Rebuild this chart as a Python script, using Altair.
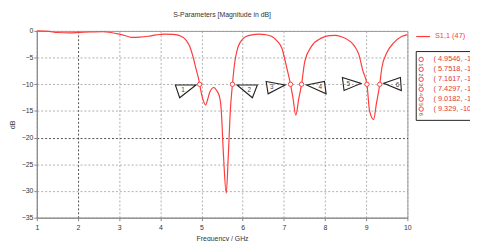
import altair as alt
import pandas as pd

# ---- data ----
freq = [1.0, 1.3, 1.5, 1.8, 2.0, 2.3, 2.6, 2.8, 3.0, 3.2, 3.3, 3.5, 3.7, 3.9, 4.1, 4.3,
        4.41, 4.5, 4.57, 4.65, 4.72, 4.80, 4.88, 4.93, 4.9546, 5.0, 5.05, 5.1, 5.15, 5.2,
        5.3, 5.37, 5.44, 5.48, 5.535, 5.6, 5.65, 5.70, 5.7518, 5.80, 5.88, 5.95, 6.08,
        6.25, 6.39, 6.55, 6.71, 6.85, 6.95, 7.07, 7.1617, 7.22, 7.29, 7.36, 7.4297, 7.51,
        7.67, 7.91, 8.1, 8.25, 8.38, 8.62, 8.72, 8.82, 8.92, 9.0182, 9.08, 9.18, 9.25,
        9.329, 9.38, 9.50, 9.66, 9.86, 10.0]
s11 = [0.0, -0.1, -0.3, -0.35, -0.3, -0.2, -0.15, -0.3, -0.6, -1.0, -1.2, -1.15, -1.0,
       -0.75, -0.6, -0.65, -0.75, -1.0, -1.3, -2.0, -3.0, -5.0, -7.5, -9.0, -10.0, -11.8,
       -13.2, -13.9, -12.8, -11.5, -10.6, -11.2, -12.4, -14.9, -23.5, -30.4, -23.5, -14.9,
       -10.0, -6.3, -3.2, -2.0, -1.05, -0.7, -0.6, -0.7, -1.05, -2.0, -3.2, -6.9, -10.0,
       -12.5, -15.8, -12.8, -10.0, -5.65, -2.9, -1.35, -0.87, -0.85, -1.05, -2.0, -2.9,
       -4.4, -7.5, -10.0, -14.9, -16.6, -13.5, -10.0, -6.9, -4.1, -2.3, -1.05, -0.7]

marker_freq = [4.9546, 5.7518, 7.1617, 7.4297, 9.0182, 9.329]
marker_db = [-10, -10, -10, -10, -10, -10]
marker_label = ["1", "2", "3", "4", "5", "6"]
marker_text = ["( 4.9546, -10 )", "( 5.7518, -10 )", "( 7.1617, -10 )",
               "( 7.4297, -10 )", "( 9.0182, -10 )", "( 9.329, -10 )"]

series_name = "S1,1 (47)"
chart_title = "S-Parameters [Magnitude in dB]"
x_title = "Frequency / GHz"
y_title = "dB"
x_ticks = [1, 2, 3, 4, 5, 6, 7, 8, 9, 10]
y_ticks = [0, -5, -10, -15, -20, -25, -30, -35]

# ---- styling ----
W, H = 377, 190
RED = "#ff3b3b"
FONT = "Liberation Sans"
GREY = "#333333"

# flag triangles (custom symbol paths, unit = 10 px) and label offsets
tri_paths = [
    "M-2.47,0.07L-0.37,0.07L-2.03,1.37Z",
    "M0.46,0.07L2.53,0.07L2.03,1.37Z",
    "M-2.48,-0.29L-0.55,0.07L-2.28,0.97Z",
    "M0.5,0.07L2.33,-0.29L2.5,0.97Z",
    "M-2.5,-0.69L-0.6,-0.09L-2.33,0.64Z",
    "M0.4,-0.1L2.1,-0.7L2.2,0.64Z",
]
lab_off = [(-17, 6), (17, 6), (-19, 2.5), (19, 2.5), (-19, 0), (18, 1)]

curve_df = pd.DataFrame({"f": freq, "db": s11})
mk_df = pd.DataFrame({"f": marker_freq, "db": marker_db, "n": marker_label,
                      "t": marker_text})
one = pd.DataFrame({"a": [0]})

grid_x_color = {"condition": {"test": "datum.value == 2", "value": "#222222"}, "value": "#9a9a9a"}
grid_y_color = {"condition": {"test": "datum.value == -20", "value": "#222222"}, "value": "#9a9a9a"}

x_enc = alt.X("f:Q", scale=alt.Scale(domain=[1, 10], nice=False, zero=False),
              axis=alt.Axis(values=x_ticks, format="d", title=x_title,
                            labelFont=FONT, labelFontSize=7, labelColor=GREY,
                            labelOverlap=False, labelFlush=False,
                            tickSize=3, tickColor="#888888", domainColor="#888888",
                            labelPadding=3, grid=True, gridDash=[2, 2],
                            gridColor=grid_x_color, gridWidth=0.8,
                            titleFont=FONT, titleFontSize=7, titleFontWeight="normal",
                            titleColor=GREY, titleY=17, titleBaseline="top"))
y_enc = alt.Y("db:Q", scale=alt.Scale(domain=[-35, 0], nice=False, zero=False),
              axis=alt.Axis(values=y_ticks, format="d", title=y_title,
                            labelFont=FONT, labelFontSize=7, labelColor=GREY,
                            labelOverlap=False, labelFlush=False, labelBound=False,
                            tickSize=3, tickColor="#888888", domainColor="#888888",
                            labelPadding=1, grid=True, gridDash=[2, 2],
                            gridColor=grid_y_color, gridWidth=0.8,
                            titleFont=FONT, titleFontSize=7, titleFontWeight="normal",
                            titleColor=GREY, titleX=-25, titleY=H / 2,
                            titleAngle=-90, titleAlign="center", titleBaseline="middle"))

line = alt.Chart(curve_df).mark_line(color=RED, strokeWidth=1.2,
                                     interpolate="monotone").encode(x=x_enc, y=y_enc)

layers = [line]

for i in range(len(marker_freq)):
    d = mk_df.iloc[[i]]
    layers.append(alt.Chart(d).mark_point(shape=tri_paths[i], size=400, filled=False,
                                          stroke="#222222", strokeWidth=1.1, opacity=1)
                  .encode(x=x_enc, y=y_enc))
    layers.append(alt.Chart(d).mark_text(dx=lab_off[i][0], dy=lab_off[i][1], fontSize=6.5,
                                         font=FONT, color="#444444")
                  .encode(x=x_enc, y=y_enc, text="n:N"))

layers.append(alt.Chart(mk_df).mark_point(shape="circle", size=20, filled=True,
                                          fill="white", stroke=RED, strokeWidth=1,
                                          opacity=1)
              .encode(x=x_enc, y=y_enc))

# legend (series)
layers.append(alt.Chart(one).mark_rule(color=RED, strokeWidth=1.2)
              .encode(x=alt.value(386), x2=alt.value(400), y=alt.value(5.7)))
layers.append(alt.Chart(one).mark_text(align="left", baseline="middle", color=RED,
                                       fontSize=7.5, font=FONT)
              .encode(x=alt.value(405), y=alt.value(5.7), text=alt.value(series_name)))

# marker box
layers.append(alt.Chart(one).mark_rect(fill="white", stroke="#222222", strokeWidth=1)
              .encode(x=alt.value(386), x2=alt.value(470), y=alt.value(21),
                      y2=alt.value(91)))
for i in range(len(marker_freq)):
    yy = 29 + 10.1 * i
    layers.append(alt.Chart(one).mark_point(shape="circle", size=20, filled=True,
                                            fill="white", stroke=RED, strokeWidth=1,
                                            opacity=1)
                  .encode(x=alt.value(391), y=alt.value(yy)))
    layers.append(alt.Chart(one).mark_text(angle=90, fontSize=5, font=FONT,
                                           color="#555555", baseline="middle")
                  .encode(x=alt.value(391), y=alt.value(yy + 5.5),
                          text=alt.value(marker_label[i])))
    layers.append(alt.Chart(one).mark_text(align="left", baseline="middle", fontSize=7.5,
                                           font=FONT, color="#e03a3a")
                  .encode(x=alt.value(403.5), y=alt.value(yy),
                          text=alt.value(marker_text[i])))

chart = alt.layer(*layers).properties(
    width=W, height=H,
    title=alt.Title(chart_title, fontSize=7, fontWeight="normal", color=GREY, font=FONT,
                    offset=9, anchor="middle"),
    autosize=alt.AutoSizeParams(type="none"),
    padding={"left": 29.3, "top": 21.3, "right": 63.7, "bottom": 21.7},
).configure_view(stroke="#999999", strokeWidth=1
).configure_axis(labelOverlap=False, labelFlush=False)

chart.save("out.html", embed_options={"renderer": "svg", "actions": False})
